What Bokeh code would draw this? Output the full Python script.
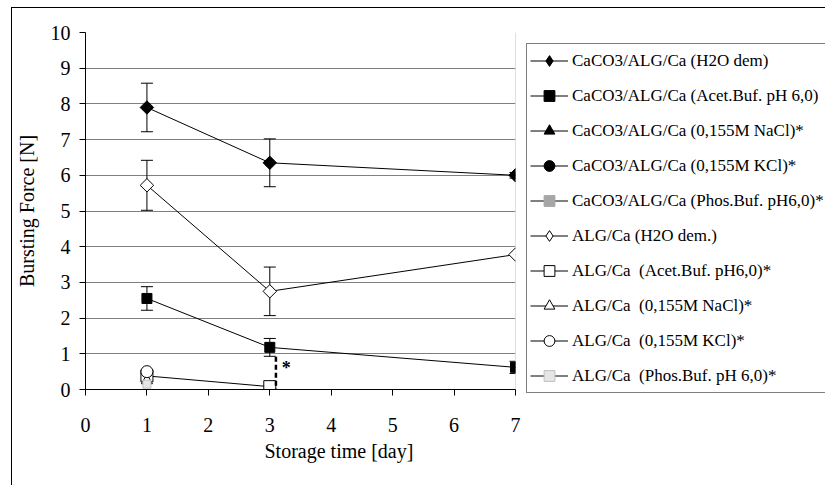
import math
from bokeh.plotting import figure
from bokeh.models import (Legend, LegendItem, Whisker, TeeHead, ColumnDataSource,
                          Label, FixedTicker, Title)
from bokeh.embed import file_html
from bokeh.resources import INLINE

# ---------------- data ----------------
x_ticks = [0, 1, 2, 3, 4, 5, 6, 7]
y_ticks = [0, 1, 2, 3, 4, 5, 6, 7, 8, 9, 10]

days_full = [1, 3, 7]
nan = math.nan

caco3_h2o_y = [7.9, 6.35, 6.0]
caco3_h2o_err = [0.68, 0.67, 0.08]

caco3_acet_y = [2.55, 1.18, 0.62]
caco3_acet_err = [0.33, 0.25, 0.17]

# no measurable values for these (beads dissolved)
caco3_nacl_y = [nan, nan, nan]
caco3_kcl_y = [nan, nan, nan]
caco3_phos_y = [nan, nan, nan]

alg_h2o_y = [5.72, 2.75, 3.78]
alg_h2o_err = [0.70, 0.68, 0.0]

alg_acet_x = [1, 3]
alg_acet_y = [0.38, 0.08]

alg_nacl_x = [1]
alg_nacl_y = [0.25]

alg_kcl_x = [1]
alg_kcl_y = [0.5]

alg_phos_x = [1]
alg_phos_y = [0.15]

# significance marker (dashed line and asterisk)
dash_x = [3.1, 3.1]
dash_y = [0.92, 0.0]
star_pos = (3.27, 0.6)

labels = [
    "CaCO3/ALG/Ca (H2O dem)",
    "CaCO3/ALG/Ca (Acet.Buf. pH 6,0)",
    "CaCO3/ALG/Ca (0,155M NaCl)*",
    "CaCO3/ALG/Ca (0,155M KCl)*",
    "CaCO3/ALG/Ca (Phos.Buf. pH6,0)*",
    "ALG/Ca (H2O dem.)",
    "ALG/Ca  (Acet.Buf. pH6,0)*",
    "ALG/Ca  (0,155M NaCl)*",
    "ALG/Ca  (0,155M KCl)*",
    "ALG/Ca  (Phos.Buf. pH 6,0)*",
]

FONT = "Liberation Serif"

p = figure(frame_width=430, frame_height=357, height=477,
           min_border_left=72, min_border_top=24, min_border_bottom=96,
           min_border_right=0,
           x_range=(0, 7), y_range=(0, 10),
           output_backend="svg", toolbar_location=None)
p.styles = {"border-left": "1px solid black", "border-top": "1px solid black",
            "margin-left": "11px", "margin-top": "7px"}
p.outline_line_color = None
p.background_fill_color = "white"
p.border_fill_color = "white"

p.xgrid.grid_line_color = None
p.ygrid.grid_line_color = "#808080"
p.ygrid.grid_line_width = 1
p.ygrid.ticker = FixedTicker(ticks=y_ticks)

for ax in (p.xaxis[0], p.yaxis[0]):
    ax.axis_line_color = "black"
    ax.major_tick_line_color = "black"
    ax.major_tick_out = 6
    ax.major_tick_in = 0
    ax.minor_tick_line_color = None
    ax.major_label_text_font = FONT
    ax.major_label_text_font_size = "20px"
    ax.major_label_text_color = "black"
    ax.axis_label_text_font = FONT
    ax.axis_label_text_font_size = "20px"
    ax.axis_label_text_font_style = "normal"
    ax.axis_label_text_color = "black"

p.xaxis.ticker = FixedTicker(ticks=x_ticks)
p.xaxis.major_label_standoff = 22
p.yaxis.ticker = FixedTicker(ticks=y_ticks)
p.yaxis.major_label_standoff = 9
p.yaxis.axis_label = "Bursting Force [N]"
p.yaxis.axis_label_standoff = 10

p.add_layout(Title(text="Storage time [day]", align="left", offset=179,
                   standoff=6, text_font=FONT, text_font_size="20px",
                   text_font_style="normal", text_color="black"), "below")

# light grey right edge of plot area
p.line([x_ticks[-1], x_ticks[-1]], [y_ticks[0], y_ticks[-1]],
       line_color="#c0c0c0", line_width=1)


def errbars(xs, ys, errs):
    src = ColumnDataSource(dict(x=xs, up=[y + e for y, e in zip(ys, errs)],
                                lo=[y - e for y, e in zip(ys, errs)]))
    w = Whisker(source=src, base="x", upper="up", lower="lo",
                line_color="black", line_width=1, level="underlay",
                upper_head=TeeHead(size=12, line_color="black", line_width=1),
                lower_head=TeeHead(size=12, line_color="black", line_width=1))
    p.add_layout(w)


errbars(days_full, caco3_h2o_y, caco3_h2o_err)
errbars(days_full, caco3_acet_y, caco3_acet_err)
errbars(days_full[:2], alg_h2o_y[:2], alg_h2o_err[:2])

# (x, y, plot marker style, legend marker override)
series = [
    (days_full, caco3_h2o_y, dict(marker="square", angle=math.pi / 4, size=9.5,
                                  fill_color="black", line_color="black"), "diamond"),
    (days_full, caco3_acet_y, dict(marker="square", size=10,
                                   fill_color="black", line_color="black"), None),
    (days_full, caco3_nacl_y, dict(marker="triangle", size=11,
                                   fill_color="black", line_color="black"), None),
    (days_full, caco3_kcl_y, dict(marker="circle", size=10,
                                  fill_color="black", line_color="black"), None),
    (days_full, caco3_phos_y, dict(marker="square", size=7,
                                   fill_color="#a6a6a6", line_color="#a6a6a6"), None),
    (days_full, alg_h2o_y, dict(marker="square", angle=math.pi / 4, size=9.5,
                                fill_color="white", line_color="black"), "diamond"),
    (alg_acet_x, alg_acet_y, dict(marker="square", size=12,
                                  fill_color="white", line_color="black"), None),
    (alg_nacl_x, alg_nacl_y, dict(marker="triangle", size=11,
                                  fill_color="white", line_color="black"), None),
    (alg_kcl_x, alg_kcl_y, dict(marker="circle", size=12,
                                fill_color="white", line_color="black"), None),
    (alg_phos_x, alg_phos_y, dict(marker="square", size=8,
                                  fill_color="#e6e6e6", line_color="#c0c0c0"), None),
]

sources = [ColumnDataSource(dict(x=xs, y=ys)) for xs, ys, st, lm in series]
lines = [p.line("x", "y", source=s, line_color="black", line_width=1) for s in sources]

items = []
for (xs, ys, st, lm), src, ln, lab in zip(series, sources, lines, labels):
    sc = p.scatter("x", "y", source=src, line_width=1, **st)
    rends = [ln, sc]
    if lm is not None:
        st2 = {k: v for k, v in st.items() if k not in ("marker", "angle")}
        proxy = p.scatter("x", "y", source=src, marker=lm, line_width=1,
                          visible=False, **st2)
        rends = [ln, proxy]
    items.append(LegendItem(label=lab, renderers=rends))

p.line(dash_x, dash_y, line_color="black", line_width=2.5, line_dash="5 3")
p.add_layout(Label(x=star_pos[0], y=star_pos[1], text="*", text_font=FONT,
                   text_font_size="18px", text_font_style="bold",
                   text_align="center", text_baseline="middle", text_color="black"))

legend = Legend(items=items, location="top_left", margin=11, padding=3,
                spacing=8, glyph_width=38, glyph_height=27, label_height=27,
                label_standoff=4, border_line_color="black", border_line_width=1,
                background_fill_color="white", background_fill_alpha=1,
                inactive_fill_alpha=0,
                label_text_font=FONT, label_text_font_size="17px",
                label_text_color="black")
p.add_layout(legend, "right")

open("out.html", "w").write(file_html(p, INLINE))
